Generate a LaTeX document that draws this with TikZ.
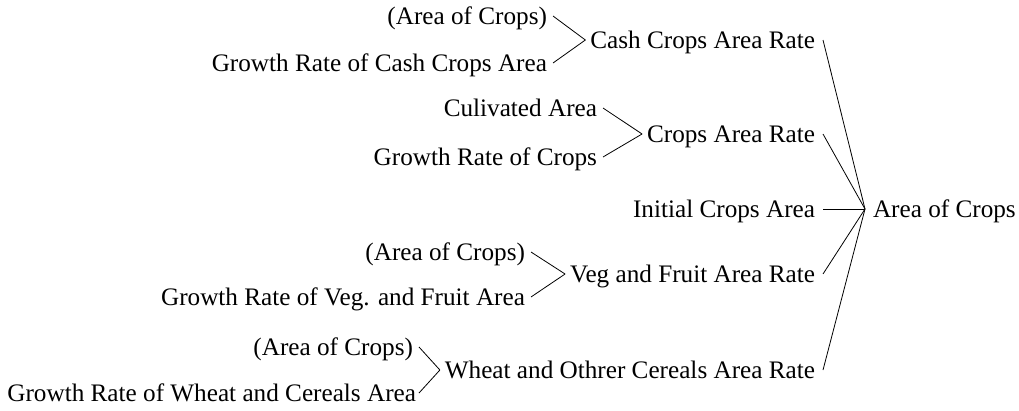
\documentclass[tikz,border=0pt]{standalone}
\usepackage{fontspec}
\setmainfont{Liberation Serif}
\newfontfamily\labelfont{Liberation Serif}
\begin{document}
\begin{tikzpicture}[x=1pt,y=-1pt,
  lbl/.style={inner sep=0pt, outer sep=0pt, text height=20pt, text depth=3pt,
              font=\labelfont\fontsize{25.2}{30}\selectfont},
  src/.style={lbl, anchor=east},
  mid/.style={lbl, anchor=east},
  root/.style={lbl, anchor=west},
  link/.style={line width=0.8pt, line join=miter}]
\useasboundingbox (0,0) rectangle (1019,410);

% cause tree of Area of Crops
\node[root] (ac) at (873,209) {Area of Crops};

\node[mid] (r1) at (815,40)  {Cash Crops Area Rate};
\node[mid] (r2) at (815,134) {Crops Area Rate};
\node[mid] (r3) at (815,209) {Initial Crops Area};
\node[mid] (r4) at (815,274) {Veg and Fruit Area Rate};
\node[mid] (r5) at (815,370) {Wheat and Othrer Cereals Area Rate};

\node[src] (a1) at (547,16)  {(Area of Crops)};
\node[src] (g1) at (547,63)  {Growth Rate of Cash Crops Area};
\node[src] (c2) at (597,108) {Culivated Area};
\node[src] (g2) at (597,157) {Growth Rate of Crops};
\node[src] (a4) at (525,252) {(Area of Crops)};
\node[src] (g4) at (525,297) {Growth Rate of Veg. and Fruit Area};
\node[src] (a5) at (413,347) {(Area of Crops)};
\node[src] (g5) at (416,393) {Growth Rate of Wheat and Cereals Area};

% second-level causes
\foreach \s/\t in {a1/r1,g1/r1,c2/r2,g2/r2,a4/r4,g4/r4,a5/r5}
  \draw[link] ([xshift=6pt]\s.east) -- ([xshift=-5pt]\t.west);
\draw[link] ([xshift=3pt]g5.east) -- ([xshift=-5pt]r5.west);

% first-level causes
\foreach \s in {r1,r2,r3,r4,r5}
  \draw[link] ([xshift=8pt]\s.east) -- ([xshift=-8pt]ac.west);
\end{tikzpicture}
\end{document}
